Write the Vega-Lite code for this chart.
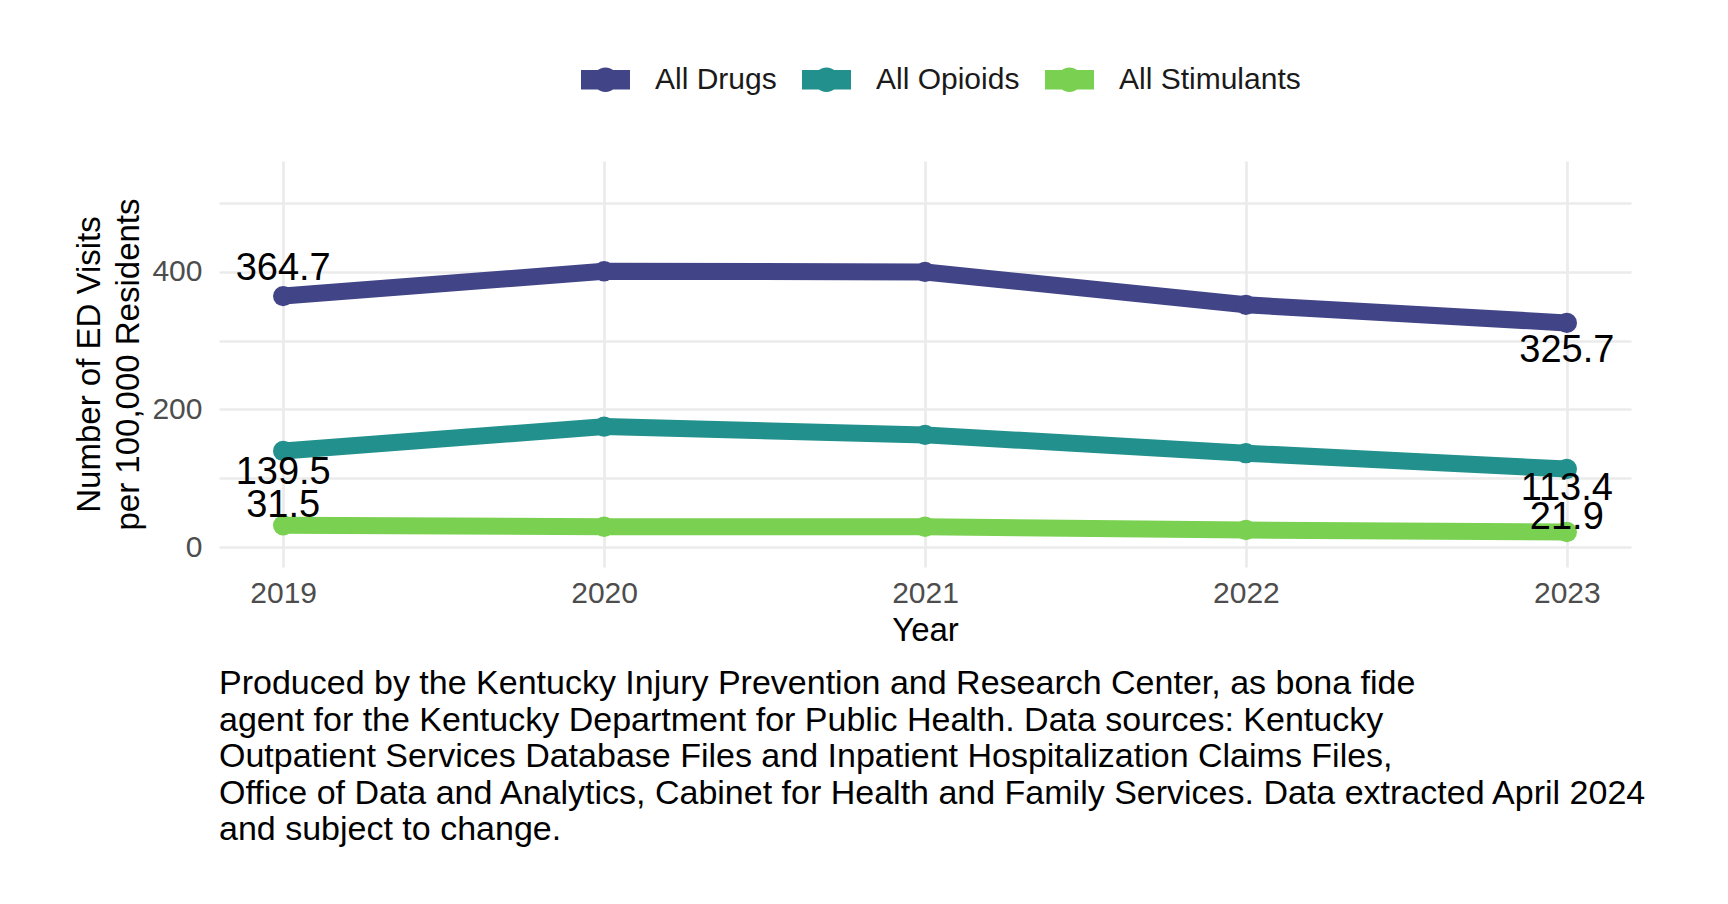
{
  "$schema": "https://vega.github.io/schema/vega-lite/v6.json",
  "width": 1412,
  "height": 406,
  "autosize": {"type": "none"},
  "padding": {"left": 219, "top": 161, "right": 97, "bottom": 337},
  "background": "white",
  "config": {
    "view": {"stroke": null},
    "font": "Liberation Sans",
    "axis": {
      "gridColor": "#EBEBEB",
      "gridWidth": 2.7,
      "ticks": false,
      "domain": false,
      "labelFont": "Liberation Sans",
      "labelFontSize": 30,
      "labelColor": "#4D4D4D",
      "titleFont": "Liberation Sans",
      "titleFontSize": 33,
      "titleFontWeight": "normal",
      "titleColor": "#000000"
    }
  },
  "data": {
    "values": [
      {"series": "All Drugs", "year": 2019, "value": 364.7},
      {"series": "All Drugs", "year": 2020, "value": 400.7},
      {"series": "All Drugs", "year": 2021, "value": 399.8},
      {"series": "All Drugs", "year": 2022, "value": 352.0},
      {"series": "All Drugs", "year": 2023, "value": 325.7},
      {"series": "All Opioids", "year": 2019, "value": 139.5},
      {"series": "All Opioids", "year": 2020, "value": 175.0},
      {"series": "All Opioids", "year": 2021, "value": 163.0},
      {"series": "All Opioids", "year": 2022, "value": 136.4},
      {"series": "All Opioids", "year": 2023, "value": 113.4},
      {"series": "All Stimulants", "year": 2019, "value": 31.5},
      {"series": "All Stimulants", "year": 2020, "value": 29.5},
      {"series": "All Stimulants", "year": 2021, "value": 29.5},
      {"series": "All Stimulants", "year": 2022, "value": 24.7},
      {"series": "All Stimulants", "year": 2023, "value": 21.9}
    ]
  },
  "title": {
    "text": [
      "Produced by the Kentucky Injury Prevention and Research Center, as bona fide",
      "agent for the Kentucky Department for Public Health. Data sources: Kentucky",
      "Outpatient Services Database Files and Inpatient Hospitalization Claims Files,",
      "Office of Data and Analytics, Cabinet for Health and Family Services. Data extracted April 2024",
      "and subject to change."
    ],
    "orient": "bottom",
    "anchor": "start",
    "frame": "group",
    "font": "Liberation Sans",
    "fontSize": 34,
    "fontWeight": "normal",
    "color": "#000000",
    "lineHeight": 36.5,
    "offset": 20
  },
  "encoding": {
    "x": {
      "field": "year",
      "type": "quantitative",
      "scale": {"domain": [2018.8, 2023.2], "nice": false, "zero": false},
      "axis": {
        "values": [2019, 2019.5, 2020, 2020.5, 2021, 2021.5, 2022, 2022.5, 2023],
        "format": "d",
        "labelExpr": "datum.value % 1 === 0 ? datum.label : ''",
        "labelOverlap": false,
        "labelFlush": false,
        "labelPadding": 11,
        "title": "Year",
        "titlePadding": 6
      }
    },
    "y": {
      "field": "value",
      "type": "quantitative",
      "scale": {"domain": [-29, 561], "nice": false, "zero": false},
      "axis": {
        "values": [0, 100, 200, 300, 400, 500],
        "labelExpr": "datum.value % 200 === 0 ? datum.label : ''",
        "labelOverlap": false,
        "labelPadding": 17,
        "title": ["Number of ED Visits", "per 100,000 Residents"],
        "titleLineHeight": 39,
        "titlePadding": 6
      }
    },
    "color": {
      "field": "series",
      "type": "nominal",
      "scale": {
        "domain": ["All Drugs", "All Opioids", "All Stimulants"],
        "range": ["#414487", "#22908C", "#7AD151"]
      },
      "legend": {
        "orient": "none",
        "direction": "horizontal",
        "legendX": 362,
        "legendY": -106,
        "title": null,
        "padding": 0,
        "symbolType": "M-1,-0.4H1V0.4H-1Z M0.5,0 A0.5,0.5 0 1,1 -0.5,0 A0.5,0.5 0 1,1 0.5,0Z",
        "symbolSize": 2401,
        "symbolStrokeWidth": 0,
        "labelFont": "Liberation Sans",
        "labelFontSize": 30,
        "labelColor": "#1A1A1A",
        "labelLimit": 500,
        "labelOffset": 25,
        "columnPadding": 25,
        "encode": {
          "symbols": {
            "update": {
              "fill": {"scale": "color", "field": "value"},
              "stroke": {"value": "transparent"},
              "opacity": {"value": 1}
            }
          }
        }
      }
    }
  },
  "layer": [
    {
      "mark": {"type": "line", "strokeWidth": 17, "strokeJoin": "round"}
    },
    {
      "mark": {"type": "point", "filled": true, "size": 415, "opacity": 1, "strokeWidth": 0}
    },
    {
      "transform": [{"filter": "datum.series === 'All Drugs' && datum.year === 2019"}],
      "mark": {"type": "text", "fontSize": 38, "font": "Liberation Sans", "color": "#000000", "baseline": "middle", "dy": -27},
      "encoding": {"text": {"field": "value", "type": "quantitative", "format": ".1f"}, "color": {"value": "#000000"}}
    },
    {
      "transform": [{"filter": "datum.series === 'All Stimulants' && datum.year === 2019"}],
      "mark": {"type": "text", "fontSize": 38, "font": "Liberation Sans", "color": "#000000", "baseline": "middle", "dy": -19},
      "encoding": {"text": {"field": "value", "type": "quantitative", "format": ".1f"}, "color": {"value": "#000000"}}
    },
    {
      "transform": [{"filter": "datum.series === 'All Stimulants' && datum.year === 2023"}],
      "mark": {"type": "text", "fontSize": 38, "font": "Liberation Sans", "color": "#000000", "baseline": "middle", "dy": -14},
      "encoding": {"text": {"field": "value", "type": "quantitative", "format": ".1f"}, "color": {"value": "#000000"}}
    },
    {
      "transform": [{"filter": "datum.series === 'All Opioids' && datum.year === 2019"}],
      "mark": {"type": "text", "fontSize": 38, "font": "Liberation Sans", "color": "#000000", "baseline": "middle", "dy": 22},
      "encoding": {"text": {"field": "value", "type": "quantitative", "format": ".1f"}, "color": {"value": "#000000"}}
    },
    {
      "transform": [{"filter": "datum.series === 'All Drugs' && datum.year === 2023"}],
      "mark": {"type": "text", "fontSize": 38, "font": "Liberation Sans", "color": "#000000", "baseline": "middle", "dy": 28},
      "encoding": {"text": {"field": "value", "type": "quantitative", "format": ".1f"}, "color": {"value": "#000000"}}
    },
    {
      "transform": [{"filter": "datum.series === 'All Opioids' && datum.year === 2023"}],
      "mark": {"type": "text", "fontSize": 38, "font": "Liberation Sans", "color": "#000000", "baseline": "middle", "dy": 20},
      "encoding": {"text": {"field": "value", "type": "quantitative", "format": ".1f"}, "color": {"value": "#000000"}}
    }
  ]
}
